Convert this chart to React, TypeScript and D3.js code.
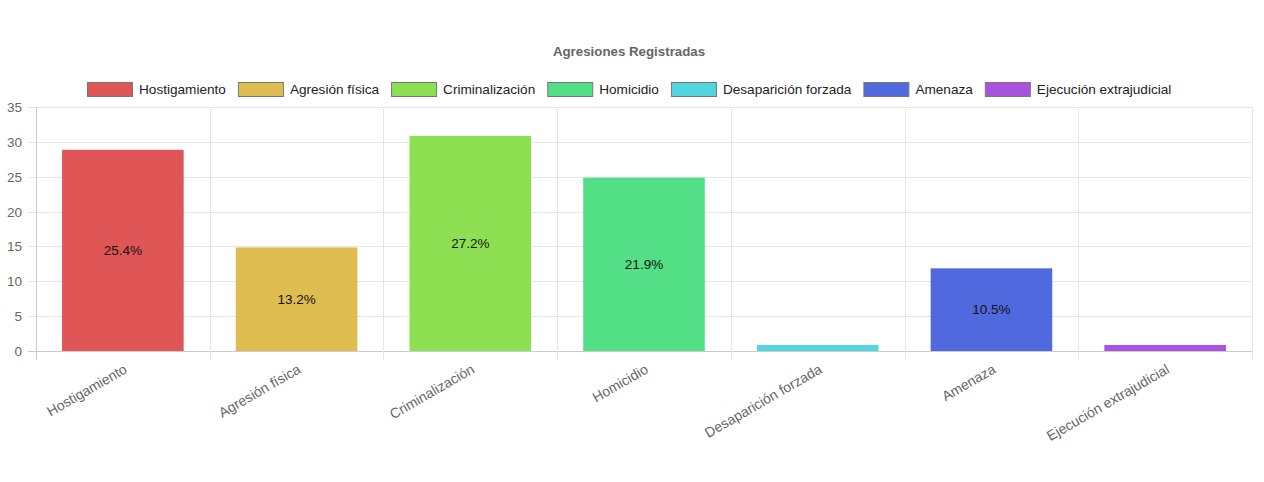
import React, { useEffect, useRef } from 'react';
import * as d3 from 'd3';

const categories = [
  'Hostigamiento',
  'Agresión física',
  'Criminalización',
  'Homicidio',
  'Desaparición forzada',
  'Amenaza',
  'Ejecución extrajudicial',
];
const counts = [29, 15, 31, 25, 1, 12, 1];
const colors = ['#e05555', '#dfbd50', '#8de052', '#52df85', '#52d5df', '#5169df', '#a852df'];
const yTicks = [0, 5, 10, 15, 20, 25, 30, 35];
const chartTitle = 'Agresiones Registradas';

const FONT = '"Liberation Sans", Arial, Helvetica, sans-serif';

const App: React.FC = () => {
  const svgRef = useRef<SVGSVGElement | null>(null);

  useEffect(() => {
    if (!svgRef.current) return;
    const svg = d3.select(svgRef.current);
    svg.selectAll('*').remove();

    const width = 1264;
    const left = 36, right = 1252, top = 107, bottom = 351;
    const total = d3.sum(counts);

    const x = d3.scaleBand<string>().domain(categories).range([left, right]).paddingInner(0).paddingOuter(0);
    const y = d3.scaleLinear().domain([0, 35]).range([bottom, top]);

    // title
    svg.append('text')
      .attr('x', 629).attr('y', 56)
      .attr('text-anchor', 'middle')
      .attr('font-family', FONT).attr('font-size', 13.3).attr('font-weight', 'bold')
      .attr('fill', '#666')
      .text(chartTitle);

    // legend
    const legend = svg.append('g');
    let cursor = 0;
    categories.forEach((c, i) => {
      const g = legend.append('g').attr('transform', `translate(${cursor},0)`);
      g.append('rect')
        .attr('x', 0.5).attr('y', 82.5).attr('width', 45).attr('height', 14)
        .attr('fill', colors[i]).attr('stroke', '#777').attr('stroke-width', 1);
      const t = g.append('text')
        .attr('x', 52).attr('y', 94)
        .attr('font-family', FONT).attr('font-size', 13.6)
        .attr('fill', '#222')
        .text(c);
      const tw = (t.node() as SVGTextElement).getComputedTextLength();
      cursor += 52 + tw + 12;
    });
    const legendW = cursor - 12;
    legend.attr('transform', `translate(${Math.round(629 - legendW / 2)},0)`);

    // grid
    const grid = svg.append('g');
    yTicks.forEach(v => {
      grid.append('line')
        .attr('x1', left - 8).attr('x2', right)
        .attr('y1', Math.round(y(v)) + 0.5).attr('y2', Math.round(y(v)) + 0.5)
        .attr('stroke', v === 0 ? '#ccc' : '#e6e6e6').attr('stroke-width', 1);
      grid.append('text')
        .attr('x', 22).attr('y', y(v) + 5)
        .attr('text-anchor', 'end')
        .attr('font-family', FONT).attr('font-size', 13.5)
        .attr('fill', '#666')
        .text(v);
    });
    const bounds = categories.map(c => x(c) as number).concat([right]);
    bounds.forEach((bx, i) => {
      grid.append('line')
        .attr('x1', Math.round(bx) + 0.5).attr('x2', Math.round(bx) + 0.5)
        .attr('y1', top).attr('y2', bottom + 9)
        .attr('stroke', i === 0 ? '#ccc' : '#e6e6e6').attr('stroke-width', 1);
    });

    // bars
    const bw = x.bandwidth() * 0.7;
    const bars = svg.append('g');
    categories.forEach((c, i) => {
      const cx = (x(c) as number) + x.bandwidth() / 2;
      bars.append('rect')
        .attr('x', cx - bw / 2).attr('y', y(counts[i]) + 1)
        .attr('width', bw).attr('height', y(0) - y(counts[i]) - 1)
        .attr('fill', colors[i]);
      const pct = counts[i] / total;
      if (pct > 0.05) {
        bars.append('text')
          .attr('x', cx).attr('y', (y(counts[i]) + y(0)) / 2 + 5)
          .attr('text-anchor', 'middle')
          .attr('font-family', FONT).attr('font-size', 13.5)
          .attr('fill', '#111')
          .text(`${(pct * 100).toFixed(1)}%`);
      }
      svg.append('text')
        .attr('transform', `translate(${cx},${bottom + 12}) rotate(-30)`)
        .attr('text-anchor', 'end')
        .attr('dominant-baseline', 'hanging')
        .attr('font-family', FONT).attr('font-size', 14)
        .attr('fill', '#666')
        .text(c);
    });

    svg.attr('width', width).attr('height', 482);
  }, []);

  return (
    <svg
      ref={svgRef}
      width={1264}
      height={482}
      style={{ position: 'absolute', left: 0, top: 0, background: '#fff' }}
    />
  );
};

export default App;
